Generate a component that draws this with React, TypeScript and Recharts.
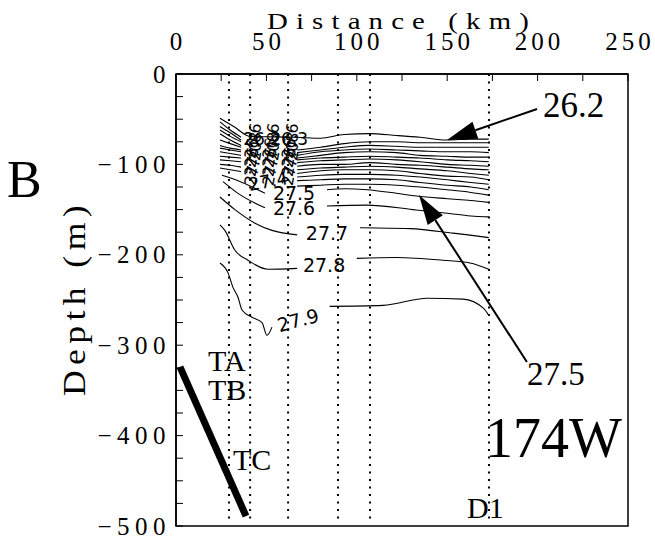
import React from "react";
import {
  LineChart,
  Line,
  XAxis,
  YAxis,
  ReferenceLine,
  ReferenceDot,
  ReferenceArea,
} from "recharts";

// axes
const xTicks = [0, 25, 50, 75, 100, 125, 150, 175, 200, 225, 250];
const yTicks = [-500, -475, -450, -425, -400, -375, -350, -325, -300, -275, -250, -225, -200, -175, -150, -125, -100, -75, -50, -25, 0];

// CTD station positions (km)
const stationKm = [29.3, 41, 62, 89.6, 107.3, 173.1];

// mooring TA-TC (km, depth m)
const mooringX = [2.2, 38.7];
const mooringDepth = [324, 489];

// top isopycnal 26.2 (continuous)
const topX = [24.3, 32.6, 40.9, 67, 80, 93, 107, 122, 135, 150, 163, 173];
const topDepth = [49, 59, 69, 70, 71, 67, 66, 68, 70, 73, 72, 72];

// dense band 26.3 ... 27.4: short left piece, gap, long right piece
const bandLeftX = [24.3, 30, 36];
const bandRightX = [67, 80, 93, 107, 122, 135, 150, 163, 173];
const bandLeftDepth = [
  [53, 62, 70],
  [58, 65, 73],
  [62, 69, 75],
  [66, 73, 79],
  [73, 77, 81],
  [79, 82, 84],
  [82, 84, 86],
  [86, 88, 90],
  [91, 92, 93],
  [95, 96, 97],
  [100, 101, 103],
  [104, 106, 108],
];
const bandRightDepth = [
  [84, 81, 77, 75, 75, 76, 76, 76, 76],
  [87, 84, 81, 79, 80, 81, 81, 81, 81],
  [90, 86, 84, 83, 84, 85, 86, 86, 87],
  [93, 90, 87, 86, 87, 90, 91, 92, 92],
  [95, 93, 92, 91, 92, 93, 95, 96, 97],
  [98, 96, 95, 94, 95, 97, 100, 101, 102],
  [102, 100, 100, 98, 100, 101, 103, 105, 106],
  [106, 104, 103, 102, 103, 105, 107, 110, 112],
  [110, 107, 106, 106, 107, 110, 113, 114, 117],
  [114, 112, 111, 111, 112, 114, 117, 120, 122],
  [118, 117, 116, 116, 117, 120, 123, 125, 128],
  [124, 123, 122, 122, 123, 125, 128, 131, 134],
];

// labelled isopycnals 27.5 ... 27.9
const c275 = { lx: [25.4, 34.3, 49.2], ld: [112, 118, 132], rx: [83.5, 93.5, 105.6, 122, 133, 150, 163, 173], rd: [128, 127, 128, 132, 135, 138, 140, 142] };
const c276 = { lx: [26, 34.3, 49.2], ld: [119, 132, 148], rx: [83.5, 105.6, 131, 150, 163, 173], rd: [146, 145, 150, 154, 157, 158] };
const c277 = { lx: [24.3, 32.6, 43.7, 53.1, 67], ld: [136, 150, 165, 173, 178], rx: [101.8, 129.4, 153.2, 173], rd: [170, 171, 176, 181] };
const c278 = { lx: [24.3, 27, 32.6, 39.8, 50.9, 67], ld: [167, 173, 195, 206, 216, 215], rx: [100, 122, 147.7, 162.6, 173], rd: [204, 203, 206, 209, 216] };
const c279 = { lx: [24.3, 28.8, 31.5, 34.3, 36.5, 42, 47.6, 50.3, 53.1], ld: [209, 220, 236, 247, 261, 269, 275, 289, 280], rx: [85, 114.5, 139, 158.7, 170, 173], rd: [257, 256, 248, 249, 259, 267] };

const SERIF = "'Liberation Serif', 'Times New Roman', serif";
const SANS = "'DejaVu Sans', sans-serif";

function pts(xs: number[], ds: number[]) {
  return xs.map((x, i) => ({ x, y: -ds[i] }));
}
function split(lx: number[], ld: number[], rx: number[], rd: number[]) {
  return [...pts(lx, ld), { x: (lx[lx.length - 1] + rx[0]) / 2, y: null }, ...pts(rx, rd)];
}

const contours: { id: string; data: any[] }[] = [
  { id: "26.2", data: pts(topX, topDepth) },
  ...bandLeftDepth.map((ld, i) => ({ id: "band" + i, data: split(bandLeftX, ld, bandRightX, bandRightDepth[i]) })),
  ...[c275, c276, c277, c278, c279].map((c, i) => ({ id: "c" + i, data: split(c.lx, c.ld, c.rx, c.rd) })),
];

type Note = { x: number; y: number; t: string; size: number; font: string; anchor?: string; rot?: number; mid?: boolean; ls?: number; sx?: number };

const notes: Note[] = [
  { x: -93.5, y: -136, t: "B", size: 52, font: SERIF },
  { x: 125, y: 49.8, t: "Distance (km)", size: 24, font: SERIF, anchor: "middle", ls: 6.8, sx: 1.2 },
  { x: -50.3, y: -247.8, t: "Depth (m)", size: 31, font: SERIF, anchor: "middle", rot: -90, ls: 4.7, sx: 1.15 },
  { x: 17.7, y: -328.5, t: "TA", size: 30, font: SERIF },
  { x: 17.7, y: -360.6, t: "TB", size: 30, font: SERIF },
  { x: 31.5, y: -438, t: "TC", size: 30, font: SERIF },
  { x: 161, y: -491, t: "D1", size: 30, font: SERIF },
  { x: 170.9, y: -423.7, t: "174W", size: 56, font: SERIF },
  { x: 194.1, y: -344, t: "27.5", size: 33, font: SERIF },
  { x: 203, y: -47.6, t: "26.2", size: 35, font: SERIF },
  // contour labels
  { x: 65.3, y: -131.6, t: "27.5", size: 19, font: SANS, anchor: "middle", mid: true },
  { x: 65.3, y: -148.2, t: "27.6", size: 19, font: SANS, anchor: "middle", mid: true },
  { x: 83.5, y: -175.9, t: "27.7", size: 19, font: SANS, anchor: "middle", mid: true },
  { x: 81.9, y: -211.3, t: "27.8", size: 19, font: SANS, anchor: "middle", mid: true },
  { x: 67.5, y: -272.1, t: "27.9", size: 19, font: SANS, anchor: "middle", mid: true, rot: -15 },
  { x: 47.6, y: -71.9, t: "26.2", size: 17, font: SANS, anchor: "middle", mid: true },
  { x: 62.6, y: -71.9, t: "26.3", size: 17, font: SANS, anchor: "middle", mid: true },
  { x: 50.9, y: -118.4, t: "27.4", size: 18, font: SANS, anchor: "middle", mid: true, rot: -10 },
];

// overlapping labels squeezed into the steep part of the band
const crowdX = [42.6, 52.5, 63.1];
const crowdDepth = [74, 84, 94, 104];
const crowdText = ["26.6", "26.8", "27.0", "27.2"];
crowdX.forEach((x) =>
  crowdDepth.forEach((d, j) =>
    notes.push({ x, y: -d, t: crowdText[j], size: 16, font: SANS, anchor: "middle", mid: true, rot: -80 })
  )
);

const arrows = [
  { from: { x: 199.7, y: -38.7 }, to: { x: 149.9, y: -73 } },
  { from: { x: 194.1, y: -318.6 }, to: { x: 134.4, y: -133.8 } },
];

const TopTick = (p: any) => {
  const { x, y, payload } = p;
  const v = payload.value;
  return (
    <g>
      <line x1={x} y1={y} x2={x} y2={y + 7} stroke="#000" strokeWidth={1} />
      {v % 50 === 0 && (
        <text x={x + 2} y={y - 24} textAnchor="middle" fontFamily={SERIF} fontSize={25} letterSpacing={4} fill="#000">
          {v}
        </text>
      )}
    </g>
  );
};

const LeftTick = (p: any) => {
  const { x, y, payload } = p;
  const v = payload.value;
  return (
    <g>
      <line x1={x} y1={y} x2={x + 7} y2={y} stroke="#000" strokeWidth={1} />
      {v % 100 === 0 && (
        <text x={x - 5} y={y + 8.5} textAnchor="end" fontFamily={SERIF} fontSize={25} letterSpacing={5.5} fill="#000">
          {v === 0 ? "0" : "\u2212" + Math.abs(v)}
        </text>
      )}
    </g>
  );
};

const arrowShape = (p: any) => {
  const { x1, y1, x2, y2 } = p;
  const dx = x2 - x1;
  const dy = y2 - y1;
  const len = Math.sqrt(dx * dx + dy * dy);
  const ux = dx / len;
  const uy = dy / len;
  const bx = x2 - ux * 30;
  const by = y2 - uy * 30;
  const hw = 9;
  return (
    <g>
      <line x1={x1} y1={y1} x2={bx} y2={by} stroke="#000" strokeWidth={2} />
      <polygon
        points={`${x2},${y2} ${bx - uy * hw},${by + ux * hw} ${bx + uy * hw},${by - ux * hw}`}
        fill="#000"
      />
    </g>
  );
};

export default function App() {
  return (
    <div style={{ position: "absolute", left: 0, top: 0, background: "#fff" }}>
      <LineChart width={655} height={541} margin={{ top: 44, right: 27, bottom: 15, left: 116 }}>
        <XAxis
          type="number"
          dataKey="x"
          orientation="top"
          domain={[0, 250]}
          ticks={xTicks}
          height={30}
          allowDataOverflow
          tickSize={0}
          tickMargin={0}
          tickLine={false}
          axisLine={{ stroke: "#000", strokeWidth: 1.5 }}
          tick={TopTick}
          interval={0}
        />
        <YAxis
          type="number"
          domain={[-500, 0]}
          ticks={yTicks}
          width={60}
          allowDataOverflow
          tickSize={0}
          tickMargin={0}
          tickLine={false}
          axisLine={{ stroke: "#000", strokeWidth: 1.5 }}
          tick={LeftTick}
          interval={0}
        />
        <ReferenceArea x1={0} x2={250} y1={-500} y2={0} fill="none" stroke="#000" strokeWidth={1.5} />
        {stationKm.map((km) => (
          <ReferenceLine
            key={"st" + km}
            segment={[{ x: km, y: 0 }, { x: km, y: -497 }]}
            stroke="#000"
            strokeWidth={2}
            strokeDasharray="2 5.5"
          />
        ))}
        {contours.map((c) => (
          <Line
            key={c.id}
            data={c.data}
            dataKey="y"
            type="monotone"
            stroke="#000"
            strokeWidth={1.1}
            dot={false}
            activeDot={false}
            connectNulls={false}
            isAnimationActive={false}
          />
        ))}
        <Line
          data={pts(mooringX, mooringDepth)}
          dataKey="y"
          type="linear"
          stroke="#000"
          strokeWidth={7}
          dot={false}
          activeDot={false}
          isAnimationActive={false}
        />
        {arrows.map((a, i) => (
          <ReferenceLine key={"ar" + i} segment={[a.from, a.to]} shape={arrowShape} />
        ))}
        {notes.map((n, i) => (
          <ReferenceDot
            key={"n" + i}
            x={n.x}
            y={n.y}
            r={0}
            ifOverflow="visible"
            shape={(p: any) => (
              <text
                x={0}
                y={0}
                fontFamily={n.font}
                fontSize={n.size}
                textAnchor={n.anchor || "start"}
                dominantBaseline={n.mid ? "central" : "auto"}
                letterSpacing={n.ls || 0}
                transform={`translate(${p.cx} ${p.cy}) rotate(${n.rot || 0}) scale(${n.sx || 1} 1)`}
                fill="#000"
              >
                {n.t}
              </text>
            )}
          />
        ))}
      </LineChart>
    </div>
  );
}
